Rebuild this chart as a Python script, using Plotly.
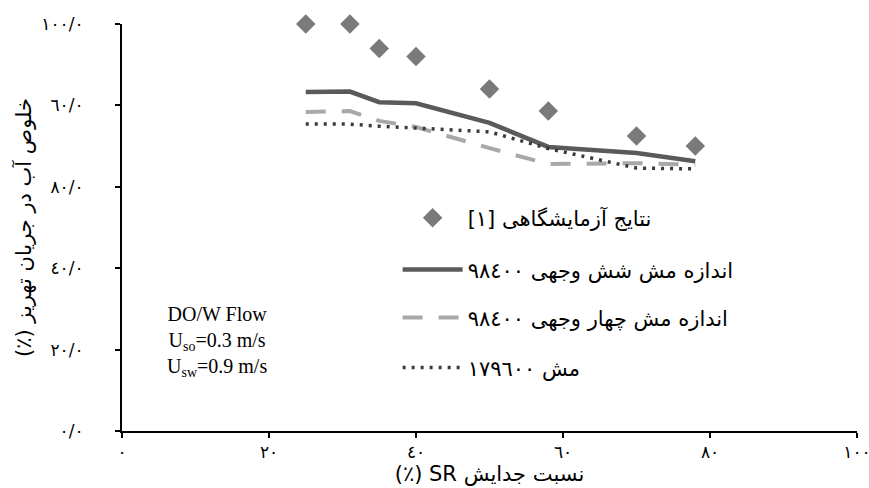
import plotly.graph_objects as go

# ---- data ----
sr_exp = [25, 31, 35, 40, 50, 58, 70, 78]
purity_exp = [100, 100, 94, 92, 84, 78.6, 72.5, 70]

sr_sim = [25, 31, 35, 40, 50, 58, 70, 78]
purity_hex = [83.3, 83.4, 80.8, 80.5, 75.7, 69.8, 68.3, 66.3]
purity_tet = [78.4, 78.6, 76.2, 74.7, 69.5, 65.6, 65.8, 65.4]
purity_fine = [75.4, 75.4, 74.9, 74.4, 73.5, 69.4, 64.6, 64.4]

x_tickvals = [0, 20, 40, 60, 80, 100]
x_ticktext = ["٠", "٢٠", "٤٠", "٦٠", "٨٠", "١٠٠"]
y_tickvals = [0, 20, 40, 60, 80, 100]
y_ticktext = ["٠/٠", "٢٠/٠", "٤٠/٠", "٨٠/٠", "٦٠/٠", "١٠٠/٠"]

RLE, PDF = "\u202b", "\u202c"
name_exp = RLE + "نتایج آزمایشگاهی [١]" + PDF
name_hex = RLE + "اندازه مش شش وجهی ٩٨٤٠٠" + PDF
name_tet = RLE + "اندازه مش چهار وجهی ٩٨٤٠٠" + PDF
name_fine = RLE + "مش ١٧٩٦٠٠" + PDF
x_title = RLE + "نسبت جدایش SR (٪)" + PDF
y_title = RLE + "خلوص آب در جریان تهریز (٪)" + PDF

fig = go.Figure()
fig.add_trace(go.Scatter(x=sr_exp, y=purity_exp, mode="markers", name=name_exp,
                         marker=dict(symbol="diamond", size=15, color="#7a7a7a"),
                         cliponaxis=False, showlegend=True, legend="legend"))
fig.add_trace(go.Scatter(x=sr_sim, y=purity_hex, mode="lines", name=name_hex,
                         line=dict(color="#5a5a5a", width=4.5), showlegend=True, legend="legend2"))
fig.add_trace(go.Scatter(x=sr_sim, y=purity_tet, mode="lines", name=name_tet,
                         line=dict(color="#a8a8a8", width=4, dash="20px,16px"),
                         showlegend=True, legend="legend3"))
fig.add_trace(go.Scatter(x=sr_sim, y=purity_fine, mode="lines", name=name_fine,
                         line=dict(color="#3a3a3a", width=3.5, dash="3px,6px"),
                         showlegend=True, legend="legend4"))

def leg(y, x=0.375):
    return dict(x=x, y=y, xanchor="left", yanchor="middle", bgcolor="rgba(0,0,0,0)",
                font=dict(family="DejaVu Sans, Liberation Serif", size=21, color="black"),
                itemwidth=60, visible=True)

fig.update_layout(
    width=869, height=488,
    showlegend=True,
    margin=dict(l=122, r=12, t=24, b=57),
    plot_bgcolor="white", paper_bgcolor="white",
    font=dict(family="Liberation Serif, DejaVu Sans", color="black"),
    legend=leg(0.523), legend2=leg(0.396), legend3=leg(0.278), legend4=leg(0.155),
    xaxis=dict(range=[0, 100], tickvals=x_tickvals, ticktext=x_ticktext,
               showline=True, linecolor="black", linewidth=2, ticks="outside",
               ticklen=5, tickwidth=2, tickcolor="black", showgrid=False, zeroline=False,
               tickfont=dict(family="DejaVu Sans", size=17), ticklabeloverflow="allow",
               automargin=False,
               title=dict(text=x_title, font=dict(family="DejaVu Sans", size=21), standoff=4)),
    yaxis=dict(range=[0, 100], tickvals=y_tickvals, ticktext=y_ticktext,
               showline=True, linecolor="black", linewidth=2, ticks="outside",
               ticklen=5, tickwidth=2, tickcolor="black", showgrid=False, zeroline=False,
               tickfont=dict(family="DejaVu Sans", size=17), ticklabelstandoff=28,
               automargin=False,
               title=dict(text=y_title, font=dict(family="DejaVu Sans", size=21), standoff=4)),
    annotations=[
        dict(x=0.129, y=0.221, xref="paper", yref="paper", showarrow=False,
             xanchor="center", yanchor="middle",
             text="DO/W Flow<br>U<sub>so</sub>=0.3 m/s<br>U<sub>sw</sub>=0.9 m/s",
             font=dict(family="Liberation Serif", size=20, color="black"), align="center"),
    ],
)

fig.write_html("out.html")
